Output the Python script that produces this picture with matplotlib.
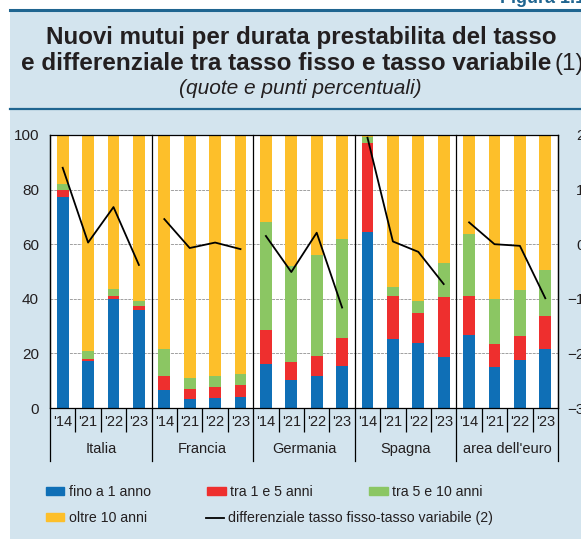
import numpy as np
import matplotlib
matplotlib.use("Agg")
import matplotlib.pyplot as plt
from matplotlib.patches import Rectangle, Patch
from matplotlib.lines import Line2D
import matplotlib.transforms as mtransforms

plt.rcParams['font.family'] = ['Liberation Sans', 'DejaVu Sans']

# data (quote percentuali, stacked)
countries = ["Italia", "Francia", "Germania", "Spagna", "area dell'euro"]
years = ["'14", "'21", "'22", "'23"]

fino_1 = [77.3, 17.2, 40.0, 36.0,
          6.5, 3.2, 3.8, 3.9,
          16.2, 10.1, 11.8, 15.5,
          64.6, 25.4, 23.9, 18.6,
          26.9, 15.0, 17.7, 21.7]
tra_1_5 = [2.7, 0.8, 1.0, 1.2,
           5.2, 3.6, 3.8, 4.5,
           12.5, 6.9, 7.4, 10.3,
           32.6, 15.7, 11.0, 22.2,
           14.2, 8.3, 8.8, 11.9]
tra_5_10 = [2.0, 3.0, 2.5, 2.0,
            9.9, 4.3, 4.1, 4.2,
            39.4, 35.1, 36.7, 36.0,
            2.0, 3.3, 4.3, 12.2,
            22.7, 16.7, 16.6, 17.1]
# remainder = oltre 10 anni
diff_fisso_var = [[1.40, 0.03, 0.68, -0.38],
                  [0.46, -0.07, 0.03, -0.09],
                  [0.15, -0.51, 0.21, -1.16],
                  [1.95, 0.05, -0.14, -0.73],
                  [0.40, 0.00, -0.03, -0.99]]

c_blue = "#0f6fb6"
c_red = "#ee2f2e"
c_green = "#8bc663"
c_yellow = "#fdbf2a"
c_bg = "#d3e4ee"
c_dark = "#1f6590"
c_txt = "#231f20"

W, H = 581, 539
fig = plt.figure(figsize=(W / 100, H / 100), dpi=100)
fig.patch.set_facecolor("white")

# background panel and rules
fig.patches.append(Rectangle((10 / W, 0), 1, 1 - 11 / H, transform=fig.transFigure,
                             facecolor=c_bg, edgecolor="none", zorder=-10))
fig.add_artist(Line2D([10 / W, 1], [1 - 10 / H, 1 - 10 / H], color=c_dark, lw=2.2))
fig.add_artist(Line2D([10 / W, 1], [1 - 108.5 / H, 1 - 108.5 / H], color=c_dark, lw=1.6))

fig.text(500 / W, 1 - 3 / H, "Figura 1.1", color=c_dark, fontsize=13, fontweight="bold",
         va="baseline", ha="left")
fig.text(301 / W, 1 - 44 / H, "Nuovi mutui per durata prestabilita del tasso",
         fontsize=17.4, fontweight="bold", ha="center", va="baseline", color=c_txt)
fig.text(551 / W, 1 - 70 / H, "e differenziale tra tasso fisso e tasso variabile",
         fontsize=17.5, fontweight="bold", ha="right", va="baseline", color=c_txt)
fig.text(555 / W, 1 - 70 / H, "(1)", fontsize=17.5, ha="left", va="baseline", color=c_txt)
fig.text(300 / W, 1 - 94 / H, "(quote e punti percentuali)", fontsize=15, style="italic",
         ha="center", va="baseline", color=c_txt)

ax = fig.add_axes([50 / W, (H - 408) / H, 508 / W, 273 / H])
ax.set_facecolor("white")

n = len(fino_1)
x = np.arange(n)
b1 = np.array(fino_1)
b2 = np.array(tra_1_5)
b3 = np.array(tra_5_10)
b4 = 100 - b1 - b2 - b3
bw = 0.47
ax.bar(x, b1, bw, color=c_blue, zorder=2)
ax.bar(x, b2, bw, bottom=b1, color=c_red, zorder=2)
ax.bar(x, b3, bw, bottom=b1 + b2, color=c_green, zorder=2)
ax.bar(x, b4, bw, bottom=b1 + b2 + b3, color=c_yellow, zorder=2)

ax.set_xlim(-0.5, n - 0.5)
ax.set_ylim(0, 100)
ax.set_yticks([0, 20, 40, 60, 80, 100])
for yv in [20, 40, 60, 80]:
    ax.axhline(yv, color="#a0a0a0", lw=0.7, ls=(0, (3, 1)), zorder=1)
ax.tick_params(axis="y", length=0, labelsize=11, pad=8, labelcolor=c_txt)

# x axis: year labels at bars, short ticks between bars, long lines between countries
ax.set_xticks([i + 0.5 for i in range(n - 1) if (i + 1) % 4 != 0])
ax.tick_params(axis="x", which="major", length=17, width=0.9, labelbottom=False)
ax.set_xticks(x, minor=True)
ax.set_xticklabels(years * len(countries), minor=True)
ax.tick_params(axis="x", which="minor", length=0, pad=5, labelsize=10.5, labelcolor=c_txt)

bounds = [-0.5] + [4 * k - 0.5 for k in range(1, 5)] + [n - 0.5]
trans = mtransforms.blended_transform_factory(ax.transData, ax.transAxes)
for bx in bounds:
    ax.plot([bx, bx], [-53 / 273, 1], transform=trans, color="black", lw=0.9,
            clip_on=False, zorder=5)
for k, name in enumerate(countries):
    ax.text(4 * k + 1.5, -41 / 273, name, transform=trans, ha="center", va="center",
            fontsize=10.5, color=c_txt)
for sp in ax.spines.values():
    sp.set_linewidth(0.9)

ax2 = ax.twinx()
ax2.set_ylim(-3, 2)
ax2.set_yticks([-3, -2, -1, 0, 1, 2])
ax2.tick_params(axis="y", length=0, labelsize=11, pad=19, labelcolor=c_txt)
for lab in ax2.get_yticklabels():
    lab.set_horizontalalignment("right")
for k, vals in enumerate(diff_fisso_var):
    ax2.plot(x[4 * k:4 * k + 4], vals, color="black", lw=1.3, zorder=6)
for sp in ax2.spines.values():
    sp.set_visible(False)

h_blue = Patch(color=c_blue)
h_red = Patch(color=c_red)
h_green = Patch(color=c_green)
h_yellow = Patch(color=c_yellow)
h_line = Line2D([], [], color="black", lw=1.3)

leg_kw = dict(frameon=False, fontsize=10.2, handlelength=1.3, handleheight=0.42,
              handletextpad=0.3, borderaxespad=0, borderpad=0)
leg1 = fig.legend([h_blue, h_red, h_green], ["fino a 1 anno", "tra 1 e 5 anni", "tra 5 e 10 anni"],
                  loc="center left", bbox_to_anchor=(46 / W, 1 - 492 / H), ncol=3,
                  columnspacing=4.0, **leg_kw)
leg2 = fig.legend([h_yellow, h_line], ["oltre 10 anni", "differenziale tasso fisso-tasso variabile (2)"],
                  loc="center left", bbox_to_anchor=(46 / W, 1 - 518 / H), ncol=2,
                  columnspacing=4.15, **leg_kw)
for t in leg1.get_texts() + leg2.get_texts():
    t.set_color(c_txt)

fig.savefig("out.png", dpi=100, facecolor=fig.get_facecolor())
